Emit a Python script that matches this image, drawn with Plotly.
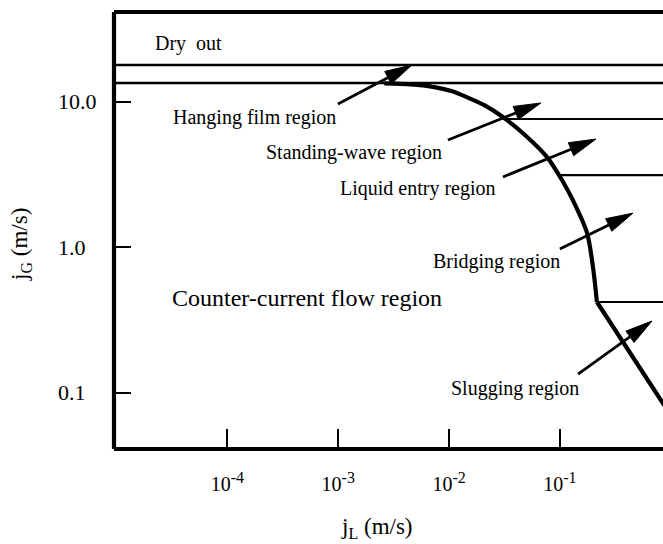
import math
import plotly.graph_objects as go

# ---------------- data ----------------
x_tick_vals = [1e-4, 1e-3, 1e-2, 1e-1]
x_tick_exp = ["-4", "-3", "-2", "-1"]
y_tick_vals = [10.0, 1.0, 0.1]
y_tick_text = ["10.0", "1.0", "0.1"]

# flooding (counter-current flow limit) curve: smooth upper part ...
curve_jL = [2.6e-3, 4.5e-3, 7.16e-3, 0.0105, 0.0145, 0.021, 0.0306, 0.0484,
            0.0766, 0.1045, 0.131, 0.176, 0.199, 0.216]
curve_jG = [13.3, 13.1, 12.6, 11.8, 10.7, 9.4, 7.82, 5.89,
            4.15, 2.89, 2.10, 1.25, 0.729, 0.419]
# ... and the straight slugging branch after the kink
slug_jL = [0.216, 1.21]
slug_jG = [0.419, 0.0561]

# horizontal region boundaries (jG level, jL where the line starts)
boundary_jG = [17.8, 13.4, 7.58, 3.12, 0.419]
boundary_jL_start = [1e-6, 1e-6, 0.031, 0.1, 0.216]
boundary_width = [2.6, 2.6, 2.2, 2.2, 2.2]

# region labels
label_text = ["Dry\u00a0 out", "Hanging film region", "Standing-wave region",
              "Liquid entry region", "Bridging region", "Counter-current flow region",
              "Slugging region"]
label_jL = [2.13e-5, 3.1e-5, 2.13e-4, 9.9e-4, 6.9e-3, 3.0e-5, 1.0e-2]
label_jG = [25.2, 7.8, 4.43, 2.54, 0.789, 0.446, 0.107]
label_size = [20, 20, 20, 20, 20, 24, 20]

# arrows (tail -> tip)
arrow_tail_jL = [9.93e-4, 9.77e-3, 0.0306, 0.100, 0.146]
arrow_tail_jG = [9.61, 5.44, 3.03, 0.97, 0.134]
arrow_tip_jL = [4.62e-3, 0.0674, 0.212, 0.457, 0.678]
arrow_tip_jG = [17.8, 9.77, 5.52, 1.71, 0.31]

# ---------------- layout geometry ----------------
W, H = 663, 544
ML, MR, MT, MB = 114, 0, 12, 95
PW, PH = W - ML - MR, H - MT - MB
XR = [-5.024, -0.069]
YR = [-1.388, 1.615]
ppx = PW / (XR[1] - XR[0])
ppy = PH / (YR[1] - YR[0])

FONT = "Liberation Serif, Times New Roman, serif"

x_tick_text = ["10<sup><span style='font-size:16px'>%s</span></sup>" % e for e in x_tick_exp]

fig = go.Figure()

# region boundary lines
for g, x0, w in zip(boundary_jG, boundary_jL_start, boundary_width):
    fig.add_trace(go.Scatter(x=[x0, 10.0], y=[g, g], mode="lines",
                             line=dict(color="black", width=w), hoverinfo="skip"))

# flooding curve
fig.add_trace(go.Scatter(x=curve_jL, y=curve_jG, mode="lines",
                         line=dict(color="black", width=4.2, shape="spline", smoothing=0.8),
                         hoverinfo="skip"))
fig.add_trace(go.Scatter(x=slug_jL, y=slug_jG, mode="lines",
                         line=dict(color="black", width=4.2), hoverinfo="skip"))

# arrows
HEAD_L, HEAD_W = 27, 14
for tx, ty, hx, hy in zip(arrow_tail_jL, arrow_tail_jG, arrow_tip_jL, arrow_tip_jG):
    lx0, ly0 = math.log10(tx), math.log10(ty)
    lx1, ly1 = math.log10(hx), math.log10(hy)
    dx, dy = (lx1 - lx0) * ppx, (ly1 - ly0) * ppy
    ln = math.hypot(dx, dy)
    ux, uy = dx / ln, dy / ln
    nx, ny = -uy, ux
    bx, by = -ux * HEAD_L, -uy * HEAD_L
    base = (lx1 + (bx + ux * 4) / ppx, ly1 + (by + uy * 4) / ppy)
    c1 = (lx1 + (bx + nx * HEAD_W / 2) / ppx, ly1 + (by + ny * HEAD_W / 2) / ppy)
    c2 = (lx1 + (bx - nx * HEAD_W / 2) / ppx, ly1 + (by - ny * HEAD_W / 2) / ppy)
    fig.add_trace(go.Scatter(x=[tx, 10 ** base[0]], y=[ty, 10 ** base[1]], mode="lines",
                             line=dict(color="black", width=2.8), hoverinfo="skip"))
    fig.add_trace(go.Scatter(x=[hx, 10 ** c1[0], 10 ** c2[0], hx],
                             y=[hy, 10 ** c1[1], 10 ** c2[1], hy],
                             mode="lines", fill="toself", fillcolor="black",
                             line=dict(color="black", width=1), hoverinfo="skip"))

annotations = []
for t, x, y, s in zip(label_text, label_jL, label_jG, label_size):
    annotations.append(dict(text=t, x=math.log10(x), y=math.log10(y), xref="x", yref="y",
                            xanchor="left", yanchor="middle", showarrow=False,
                            font=dict(family=FONT, size=s, color="black")))
for v, t in zip(y_tick_vals, y_tick_text):
    annotations.append(dict(text=t, x=(56 - ML) / PW, y=math.log10(v), xref="paper", yref="y",
                            xanchor="left", yanchor="middle", showarrow=False,
                            font=dict(family=FONT, size=22, color="black")))
annotations.append(dict(text="j<sub>G</sub> (m/s)", textangle=-90, x=(21 - ML) / PW,
                        y=(H - MB - 245) / PH, xref="paper", yref="paper",
                        xanchor="center", yanchor="middle", showarrow=False,
                        font=dict(family=FONT, size=23, color="black")))
annotations.append(dict(text="j<sub>L</sub> (m/s)", x=(377 - ML) / PW,
                        y=(H - MB - 528) / PH, xref="paper", yref="paper",
                        xanchor="center", yanchor="middle", showarrow=False,
                        font=dict(family=FONT, size=23, color="black")))

shapes = [
    dict(type="line", xref="paper", yref="paper", x0=0, x1=0, y0=0, y1=1,
         line=dict(color="black", width=4.2), layer="above"),
    dict(type="line", xref="paper", yref="paper", x0=0, x1=1, y0=0, y1=0,
         line=dict(color="black", width=4.2), layer="above"),
    dict(type="line", xref="paper", yref="paper", x0=0, x1=1, y0=1, y1=1,
         line=dict(color="black", width=4.2), layer="above"),
]

fig.update_layout(
    width=W, height=H,
    margin=dict(l=ML, r=MR, t=MT, b=MB, pad=0),
    paper_bgcolor="white", plot_bgcolor="white",
    showlegend=False,
    annotations=annotations, shapes=shapes,
    xaxis=dict(type="log", range=XR, tickvals=x_tick_vals, ticktext=x_tick_text,
               ticks="inside", ticklen=20, tickwidth=2.4, tickcolor="black",
               showgrid=False, zeroline=False, showline=False,
               ticklabelstandoff=21,
               tickfont=dict(family=FONT, size=20, color="black")),
    yaxis=dict(type="log", range=YR, tickvals=y_tick_vals,
               ticks="inside", ticklen=17, tickwidth=2.4, tickcolor="black",
               showgrid=False, zeroline=False, showline=False, showticklabels=False),
)

fig.write_html("out.html")
